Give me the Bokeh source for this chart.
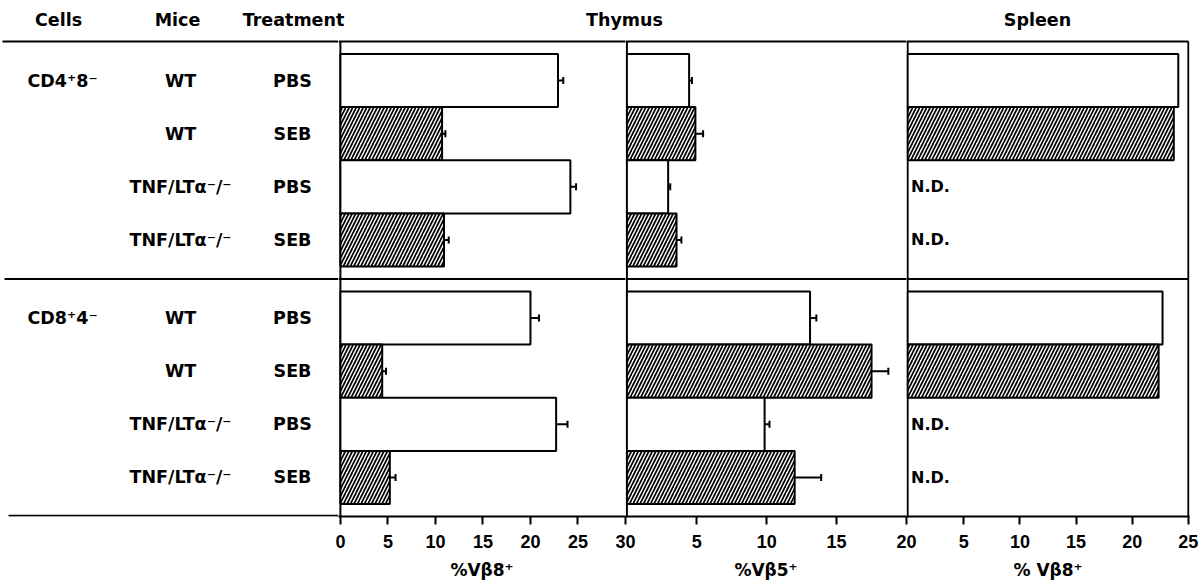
from bokeh.plotting import figure
from bokeh.layouts import row, column
from bokeh.models import ColumnDataSource, Range1d, FixedTicker, Whisker, TeeHead
from bokeh.core.properties import value, field
from bokeh.embed import file_html
from bokeh.resources import INLINE

# ---------------- data ----------------
header_cols = ["Cells", "Mice", "Treatment"]
organs = ["Thymus", "Spleen"]
cells = ["CD4⁺8⁻", "CD8⁺4⁻"]
mice = ["WT", "WT", "TNF/LTα⁻/⁻", "TNF/LTα⁻/⁻"]
treatment = ["PBS", "SEB", "PBS", "SEB"]

cd4_thymus_vb8 = [22.9, 10.7, 24.2, 10.9]
cd4_thymus_vb8_err = [0.55, 0.35, 0.6, 0.5]
cd8_thymus_vb8 = [20.0, 4.4, 22.7, 5.2]
cd8_thymus_vb8_err = [0.9, 0.4, 1.2, 0.6]

cd4_thymus_vb5 = [4.45, 4.9, 2.95, 3.55]
cd4_thymus_vb5_err = [0.2, 0.55, 0.15, 0.35]
cd8_thymus_vb5 = [13.1, 17.5, 9.85, 12.0]
cd8_thymus_vb5_err = [0.45, 1.2, 0.35, 1.9]

cd4_spleen_vb8 = [24.1, 23.7, None, None]
cd8_spleen_vb8 = [22.7, 22.35, None, None]
nd_label = "N.D."

ticks_vb8_thymus = [0, 5, 10, 15, 20, 25, 30]
ticks_vb5_thymus = [5, 10, 15, 20]
ticks_vb8_spleen = [5, 10, 15, 20, 25]
axis_titles = ["%Vβ8⁺", "%Vβ5⁺", "% Vβ8⁺"]

# ---------------- layout constants ----------------
GROUP = 4.47
PAD = 0.235
Y_TOP = -0.0565
Y_BOT = 2 * GROUP
HEADER_H = 38
FRAME_H = 478
BORDER_B = 70
TEXT_FONT = "DejaVu Sans"
TICK_FONT = "Liberation Sans"
LW = 2


def row_y(g, i):
    return g * GROUP + PAD + i + 0.5


def base_fig(**kw):
    p = figure(toolbar_location=None, output_backend="svg",
               x_axis_location=kw.pop("x_axis_location", None), y_axis_location=None,
               min_border_top=0, **kw)
    p.outline_line_color = None
    p.grid.visible = False
    return p


# ---------------- header ----------------
header = base_fig(frame_width=1201, frame_height=HEADER_H, x_range=Range1d(0, 1201), y_range=Range1d(HEADER_H, 0),
                  min_border_left=0, min_border_right=0, min_border_bottom=0)
hx = [58, 177, 293, 624, 1037]
header.text(x=hx, y=[19] * 5, text=header_cols + organs, text_align="center", text_baseline="middle",
            text_font=value(TEXT_FONT), text_font_style="bold", text_font_size="17.5px", text_color="black")

# ---------------- left labels ----------------
left = base_fig(frame_width=338, frame_height=FRAME_H, x_range=Range1d(0, 338), y_range=Range1d(Y_BOT, Y_TOP),
                min_border_left=0, min_border_right=0, min_border_bottom=BORDER_B)
left.segment(x0=[2, 4, 8], x1=[338, 338, 338], y0=[0, GROUP, Y_BOT - 0.016], y1=[0, GROUP, Y_BOT - 0.016],
             line_width=LW, line_color="black")
for g, c in enumerate(cells):
    left.text(x=[27], y=[row_y(g, 0)], text=[c], text_align="left", text_baseline="middle",
              text_font=value(TEXT_FONT), text_font_style="bold", text_font_size="17.5px")
    ys = [row_y(g, i) for i in range(4)]
    left.text(x=[180] * 4, y=ys, text=mice, text_align="center", text_baseline="middle",
              text_font=value(TEXT_FONT), text_font_style="bold", text_font_size="17.5px")
    left.text(x=[292] * 4, y=ys, text=treatment, text_align="center", text_baseline="middle",
              text_font=value(TEXT_FONT), text_font_style="bold", text_font_size="17.5px")


# ---------------- panels ----------------
def panel(x_range, frame_w, mb_left, mb_right, margin, ticks, title, groups, errs, right_border=None):
    p = base_fig(frame_width=frame_w, frame_height=FRAME_H, x_range=x_range, y_range=Range1d(Y_BOT, Y_TOP),
                 min_border_left=mb_left, min_border_right=mb_right, min_border_bottom=BORDER_B,
                 x_axis_location="below", margin=margin)
    p.background_fill_alpha = 0
    p.border_fill_alpha = 0
    x0 = x_range.start
    x1 = right_border if right_border is not None else x_range.end
    # frame lines
    p.segment(x0=[x0, x0], x1=[x1, x1], y0=[0, GROUP], y1=[0, GROUP], line_width=LW, line_color="black")
    vx = [0] + ([right_border] if right_border is not None else [])
    p.segment(x0=vx, x1=vx, y0=[0] * len(vx), y1=[Y_BOT] * len(vx), line_width=LW, line_color="black")

    ys, vs, hats = [], [], []
    eys, elo, ehi = [], [], []
    nd_y = []
    for g, vals in enumerate(groups):
        for i, v in enumerate(vals):
            y = row_y(g, i)
            if v is None:
                nd_y.append(y)
                continue
            ys.append(y)
            vs.append(v)
            hats.append("right_diagonal_line" if treatment[i] == "SEB" else " ")
            if errs is not None:
                e = errs[g][i]
                eys.append(y)
                elo.append(v - e)
                ehi.append(v + e)
    src = ColumnDataSource(dict(y=ys, v=vs, hat=hats))
    p.hbar(y="y", left=0, right="v", height=1.0, source=src, fill_color="white", line_color="black",
           line_width=LW, hatch_pattern=field("hat"), hatch_color="black", hatch_scale=7, hatch_weight=1.7)
    if eys:
        esrc = ColumnDataSource(dict(y=eys, lo=elo, hi=ehi))
        p.add_layout(Whisker(source=esrc, base="y", lower="lo", upper="hi", dimension="width",
                             line_color="black", line_width=LW,
                             upper_head=TeeHead(size=7, line_width=LW, line_color="black"),
                             lower_head=TeeHead(size=7, line_width=LW, line_color="black")))
    if nd_y:
        p.text(x=[0.3] * len(nd_y), y=nd_y, text=[nd_label] * len(nd_y), text_align="left",
               text_baseline="middle", text_font=value(TEXT_FONT), text_font_style="bold",
               text_font_size="16px", text_color="black")

    ax = p.xaxis[0]
    ax.ticker = FixedTicker(ticks=ticks)
    ax.axis_line_width = LW
    ax.axis_line_color = "black"
    ax.major_tick_line_width = LW
    ax.major_tick_line_color = "black"
    ax.major_tick_in = 0
    ax.major_tick_out = 8
    ax.minor_tick_line_color = None
    ax.major_label_standoff = 10
    ax.major_label_text_font = TICK_FONT
    ax.major_label_text_font_style = "bold"
    ax.major_label_text_font_size = "18px"
    ax.major_label_text_color = "black"
    ax.axis_label = title
    ax.axis_label_standoff = 9
    ax.axis_label_text_font = TEXT_FONT
    ax.axis_label_text_font_style = "bold"
    ax.axis_label_text_font_size = "17px"
    ax.axis_label_text_color = "black"
    return p


p1 = panel(Range1d(-0.2, 30), 287, 6, 12, (0, 0, 0, -6), ticks_vb8_thymus, axis_titles[0],
           [cd4_thymus_vb8, cd8_thymus_vb8], [cd4_thymus_vb8_err, cd8_thymus_vb8_err])
p2 = panel(Range1d(-0.1, 20), 281, 0, 12, (0, 0, 0, -12), ticks_vb5_thymus, axis_titles[1],
           [cd4_thymus_vb5, cd8_thymus_vb5], [cd4_thymus_vb5_err, cd8_thymus_vb5_err])
p3 = panel(Range1d(-0.1, 25.1), 283, 0, 12, (0, 0, 0, -12), ticks_vb8_spleen, axis_titles[2],
           [cd4_spleen_vb8, cd8_spleen_vb8], None, right_border=25)

layout = column(header, row(left, p1, p2, p3, spacing=0), spacing=0)
open("out.html", "w").write(file_html(layout, INLINE))
